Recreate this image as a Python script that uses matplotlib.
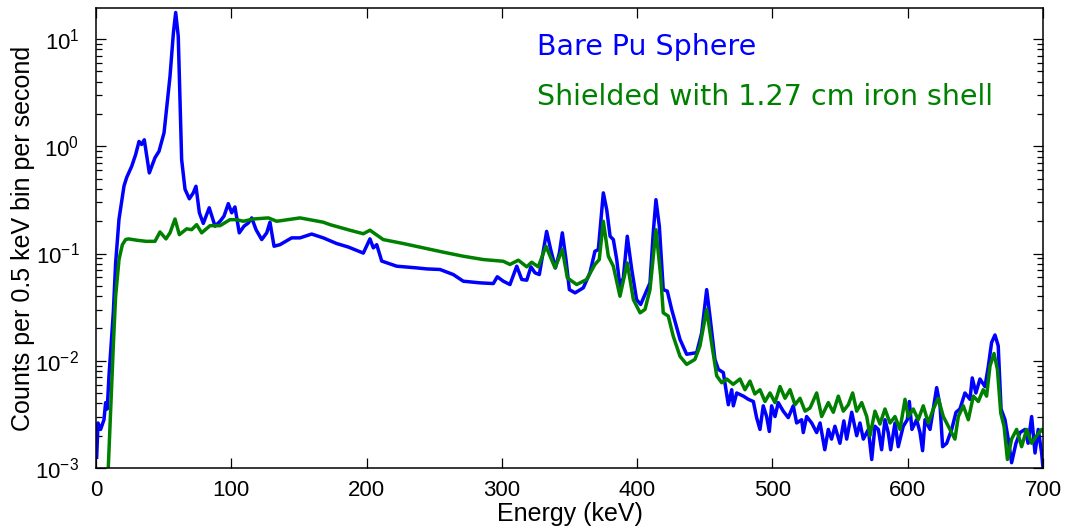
import matplotlib
matplotlib.use("Agg")
import matplotlib.pyplot as plt
from matplotlib.ticker import LogLocator, NullFormatter, MultipleLocator

plt.rcParams['font.family'] = ['Liberation Sans', 'DejaVu Sans']
plt.rcParams['mathtext.fontset'] = 'custom'
plt.rcParams['mathtext.rm'] = 'Liberation Sans'
plt.rcParams['mathtext.it'] = 'Liberation Sans:italic'

# energies (keV) and counts per 0.5 keV bin per second
bare_energy = [0.5, 1.5, 3.4, 5.9, 7.1, 8.3, 9.6, 10.8, 12.8, 14.5, 17, 20.7, 22.7, 26.4, 29.3,
               31.8, 33.7, 35.7, 39.4, 43.6, 46.6, 50.3, 54.7, 57.2, 58.9, 60.8, 63.3, 65.8, 69.0,
               71.9, 73.9, 76.4, 79.3, 83.7, 88, 91.7, 94.6, 97.8, 100.3, 102.7, 105.9, 109.4,
               112.6, 115.1, 118.3, 122.5, 126.2, 128.6, 131.6, 136, 144.6, 150.8, 159.4, 168,
               177.9, 186.5, 197.6, 202.5, 205, 207.5, 211.2, 222.3, 237, 244.4, 254.3, 264.1,
               271.5, 283.8, 293.7, 296.6, 301.1, 306, 311, 314.7, 318.4, 321.5, 324.5, 327.7,
               333.1, 336.1, 339.6, 342.5, 344.7, 347.4, 349.9, 354.1, 360.2, 365.1, 368.8, 371.3,
               373, 375, 377.5, 380, 382.4, 384.9, 387.3, 389.8, 392.7, 396, 399.6, 402.6, 405.8,
               409.5, 411.9, 413.9, 416.4, 419.3, 422.3, 425.5, 431.7, 436.6, 444, 447.7, 451.4,
               453.8, 457.5, 460, 463.7, 467.4, 469.9, 471.1, 473.6, 478.5, 482.2, 485.9, 488.3,
               490.8, 493.2, 495.7, 497.7, 499.4, 501.9, 504.3, 508, 511.7, 515.4, 517.9, 521.6,
               522.8, 525.3, 529, 532.7, 535.2, 538.7, 541.3, 543.7, 546.2, 549.9, 552.8, 554.9,
               558.6, 562.3, 564.7, 567.2, 570.9, 573.4, 575.8, 578.3, 580.7, 583.2, 585.6, 587.4,
               590.6, 593, 596.7, 599.7, 601.2, 603.1, 606.6, 609.1, 611, 612.8, 616.5, 618.9,
               621.4, 623.9, 625.8, 628.8, 632.5, 635.7, 638.6, 642.3, 646, 647.7, 650.4, 653.4,
               657.1, 659.6, 662, 664.5, 666.9, 669, 671.9, 674.3, 676.8, 680, 683, 686.7, 689,
               691.6, 694.1, 696.5, 699, 700]
bare_counts = [0.00126, 0.00263, 0.00229, 0.00282, 0.00407, 0.00355, 0.00724, 0.0120, 0.0282,
               0.0813, 0.209, 0.427, 0.513, 0.652, 0.838, 1.11, 1.04, 1.15, 0.565, 0.783, 0.90,
               1.34, 4.49, 11.4, 17.7, 10.6, 0.752, 0.398, 0.324, 0.368, 0.424, 0.240, 0.191,
               0.267, 0.180, 0.200, 0.223, 0.292, 0.240, 0.272, 0.156, 0.180, 0.193, 0.215, 0.167,
               0.135, 0.156, 0.196, 0.117, 0.121, 0.140, 0.140, 0.152, 0.140, 0.124, 0.115, 0.101,
               0.137, 0.113, 0.121, 0.0851, 0.0762, 0.0735, 0.0719, 0.0710, 0.0637, 0.0552, 0.0533,
               0.0525, 0.0607, 0.0552, 0.0514, 0.0762, 0.0573, 0.0564, 0.0752, 0.0661, 0.0637,
               0.161, 0.109, 0.0735, 0.101, 0.156, 0.0879, 0.0461, 0.0430, 0.0479, 0.0661, 0.105,
               0.109, 0.193, 0.368, 0.257, 0.145, 0.135, 0.0879, 0.0495, 0.0593, 0.145, 0.0710,
               0.0372, 0.0335, 0.0415, 0.0533, 0.156, 0.318, 0.180, 0.0461, 0.0446, 0.0302, 0.0158,
               0.0115, 0.0119, 0.0182, 0.0461, 0.0261, 0.0103, 0.00832, 0.00776, 0.00389, 0.00537,
               0.00380, 0.00501, 0.00468, 0.00437, 0.00417, 0.00295, 0.00229, 0.00380, 0.00302,
               0.00219, 0.00380, 0.00302, 0.00407, 0.00339, 0.00295, 0.00380, 0.00263, 0.00282,
               0.00214, 0.00302, 0.00263, 0.00214, 0.00263, 0.00148, 0.00229, 0.00186, 0.00245,
               0.00170, 0.00275, 0.00186, 0.00331, 0.00200, 0.00263, 0.00186, 0.00229, 0.00120,
               0.00245, 0.00229, 0.00148, 0.00282, 0.00214, 0.00148, 0.00263, 0.00158, 0.00245,
               0.00282, 0.00417, 0.00229, 0.00282, 0.00214, 0.00145, 0.00282, 0.00229, 0.00355,
               0.00562, 0.00380, 0.00158, 0.00170, 0.00229, 0.00331, 0.00355, 0.00501, 0.00437,
               0.00692, 0.00501, 0.00676, 0.00575, 0.00891, 0.0148, 0.0174, 0.0138, 0.00355,
               0.00282, 0.00186, 0.00112, 0.00170, 0.00214, 0.00229, 0.00170, 0.00302, 0.00138,
               0.00229, 0.00138, 0.00100]

iron_energy = [8.9, 10.8, 12.8, 14.5, 17, 19.5, 21.9, 23.9, 30.5, 37, 43.6, 47.3, 51.7, 54.7,
               58.4, 61.6, 67, 70.7, 74.4, 78.1, 84.3, 91.7, 99, 104, 108.9, 116.3, 127.4, 133.6,
               150.8, 168, 173, 187.7, 197.6, 202.5, 212.3, 227.1, 241.8, 256.7, 271.5, 286.3,
               301.1, 306, 312.2, 318.4, 322, 326.9, 332.6, 339.3, 344.7, 348.4, 355.3, 362.7,
               368.8, 372, 375, 378.7, 382.4, 387.3, 392.7, 397.2, 402.2, 405.8, 409.5, 413.9,
               417.4, 419.3, 423, 426.7, 431.7, 436.6, 442.7, 446.4, 451.4, 455, 458.8, 462.5,
               466.2, 471, 476, 479.7, 483.4, 487, 490.8, 494.5, 498.2, 501.9, 505.6, 509.3, 513,
               516.7, 520.4, 524.1, 527.8, 532.7, 536.4, 541.3, 545, 548.7, 552.4, 556.1, 559.3,
               562.3, 566, 569.7, 572.1, 575.8, 579.5, 583.2, 586.9, 590.6, 594.3, 598, 600.4,
               604.1, 607.8, 611.5, 615.2, 618.9, 622.6, 626.3, 631.2, 634.9, 637.4, 641.1, 644.8,
               648.5, 652.2, 655.8, 658.3, 660.8, 663.8, 666.3, 668.8, 671.2, 673.7, 676.8, 680.5,
               684.2, 687.9, 691.6, 695.3, 699, 700]
iron_counts = [0.00089, 0.00331, 0.0138, 0.0398, 0.0879, 0.121, 0.135, 0.137, 0.133, 0.130,
               0.130, 0.159, 0.137, 0.156, 0.210, 0.150, 0.170, 0.167, 0.186, 0.156, 0.182, 0.182,
               0.207, 0.207, 0.200, 0.210, 0.215, 0.200, 0.215, 0.196, 0.186, 0.165, 0.153, 0.165,
               0.135, 0.124, 0.113, 0.103, 0.0944, 0.0879, 0.0847, 0.0791, 0.0867, 0.0752, 0.0830,
               0.0752, 0.117, 0.0735, 0.109, 0.0593, 0.0514, 0.0573, 0.0791, 0.0879, 0.200, 0.0944,
               0.0762, 0.0400, 0.0818, 0.0372, 0.0280, 0.0301, 0.0461, 0.167, 0.0615, 0.0280,
               0.0261, 0.0169, 0.0110, 0.00925, 0.0103, 0.0137, 0.0301, 0.0147, 0.00724, 0.00624,
               0.00676, 0.00603, 0.00676, 0.00537, 0.00646, 0.00490, 0.00537, 0.00417, 0.00501,
               0.00407, 0.00575, 0.00447, 0.00537, 0.00389, 0.00447, 0.00339, 0.00363, 0.00501,
               0.00302, 0.00407, 0.00331, 0.00468, 0.00339, 0.00389, 0.00501, 0.00339, 0.00407,
               0.00302, 0.00200, 0.00339, 0.00257, 0.00355, 0.00263, 0.00302, 0.00229, 0.00437,
               0.00302, 0.00355, 0.00282, 0.00380, 0.00263, 0.00355, 0.00447, 0.00302, 0.00229,
               0.00186, 0.00302, 0.00380, 0.00282, 0.00468, 0.00417, 0.00537, 0.00468, 0.00891,
               0.0117, 0.00832, 0.00324, 0.00245, 0.00120, 0.00186, 0.00229, 0.00158, 0.00229,
               0.00170, 0.00200, 0.00229, 0.00219]

fig = plt.figure(figsize=(10.68, 5.32), dpi=100)
ax = fig.add_axes([96 / 1068, 1 - 468 / 532, (1043 - 96) / 1068, 460 / 532])

ax.plot(bare_energy, bare_counts, color=(0, 0, 1), lw=2.5, solid_joinstyle='round')
ax.plot(iron_energy, iron_counts, color=(0, 0.5, 0), lw=2.5, solid_joinstyle='round')

ax.set_yscale('log')
ax.set_xlim(0, 700)
ax.set_ylim(1e-3, 10 ** 1.29)
ax.xaxis.set_major_locator(MultipleLocator(100))
ax.yaxis.set_major_locator(LogLocator(base=10, numticks=10))
ax.yaxis.set_minor_locator(LogLocator(base=10, subs=range(2, 10), numticks=20))
ax.yaxis.set_minor_formatter(NullFormatter())
ax.tick_params(which='both', direction='in', top=True, right=True, labelsize=16, width=0.9)
ax.tick_params(which='major', length=7)
ax.tick_params(which='minor', length=4)
ax.tick_params(axis='x', which='major', pad=9)
ax.tick_params(axis='y', which='major', pad=12)
for s in ax.spines.values():
    s.set_linewidth(1.1)

ax.set_xlabel('Energy (keV)', fontsize=18, labelpad=0)
ax.set_ylabel('Counts per 0.5 keV bin per second', fontsize=18, labelpad=0)

fig.text(537 / 1068, 1 - 55 / 532, 'Bare Pu Sphere', color=(0, 0, 1), fontsize=20.5,
         family='DejaVu Sans', va='baseline')
fig.text(537 / 1068, 1 - 105 / 532, 'Shielded with 1.27 cm iron shell', color=(0, 0.5, 0),
         fontsize=20.5, family='DejaVu Sans', va='baseline')

fig.savefig('out.png', dpi=100)
